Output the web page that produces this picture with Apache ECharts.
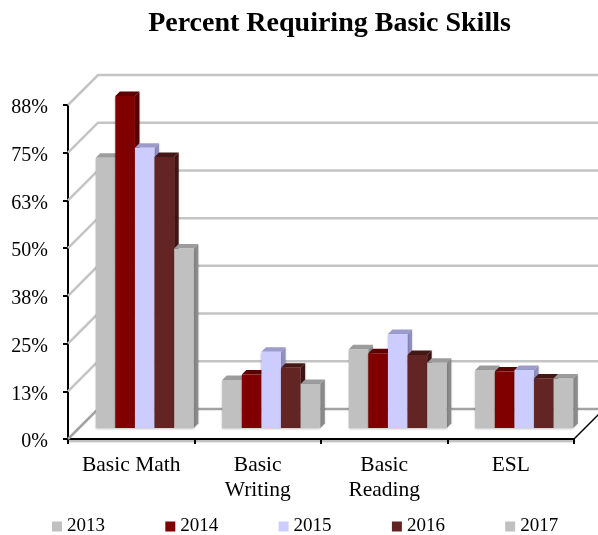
<!DOCTYPE html>
<html>
<head>
<meta charset="utf-8">
<style>html,body{margin:0;padding:0;background:#fff}#chart{width:598px;height:535px}</style>
<script src="https://cdn.jsdelivr.net/npm/echarts@6/dist/echarts.min.js"></script>
</head>
<body>
<div id="chart"></div>
<script>
const categories = ['Basic Math', 'Basic\nWriting', 'Basic\nReading', 'ESL'];
const tickValues = [0, 12.5, 25, 37.5, 50, 62.5, 75, 87.5];
const tickLabels = ['0%', '13%', '25%', '38%', '50%', '63%', '75%', '88%'];
const y2013 = [70.8, 12.6, 20.6, 15.2];
const y2014 = [87, 14, 19.6, 14.8];
const y2015 = [73.4, 20, 24.6, 15.2];
const y2016 = [71, 15.8, 19.1, 13];
const y2017 = [47, 11.5, 17.1, 13];

const years = ['2013', '2014', '2015', '2016', '2017'];
const yearValues = [y2013, y2014, y2015, y2016, y2017];
const frontColors = ['#c0c0c0', '#800000', '#ccccff', '#632523', '#c0c0c0'];
const topColors = ['#9c9c9c', '#5f0000', '#9c9ccc', '#451816', '#9c9c9c'];
const sideColors = ['#8a8a8a', '#560000', '#8f8fc0', '#3f1513', '#8a8a8a'];

// 3d look: wall sits 30px back, bars stand part of the way in
const wallDepth = 30;
const barShiftX = 13.5;
const barShiftY = -11;
const barDepth = 4.5;

function renderWall(params, api) {
    const grid = params.coordSys;
    const y = api.coord([0, api.value(0)])[1];
    const isFloor = api.value(0) === 0;
    return {
        type: 'polyline',
        shape: {points: [[grid.x, y], [grid.x + wallDepth, y - wallDepth], [grid.x + grid.width + wallDepth, y - wallDepth]]},
        style: {stroke: isFloor ? '#a2a2a2' : '#c4c4c4', lineWidth: 2.5, fill: null}
    };
}

function renderFloorEdge(params) {
    const grid = params.coordSys;
    const bottom = grid.y + grid.height;
    const right = grid.x + grid.width;
    return {
        type: 'line',
        shape: {x1: right, y1: bottom, x2: right + wallDepth, y2: bottom - wallDepth},
        style: {stroke: '#000', lineWidth: 1.5}
    };
}

function makeBarRenderer(index) {
    return function (params, api) {
        const top = api.coord([api.value(0), api.value(1)]);
        const base = api.coord([api.value(0), 0]);
        const band = api.size([1, 0])[0];
        const w = band * 0.155;
        const x0 = top[0] + barShiftX + (index - 2.5) * w;
        const x1 = x0 + w;
        const y0 = top[1] + barShiftY;
        const y1 = base[1] + barShiftY;
        const d = barDepth;
        return {
            type: 'group',
            children: [
                {type: 'polygon', shape: {points: [[x1, y0], [x1 + d, y0 - d], [x1 + d, y1 - d], [x1, y1]]}, style: {fill: sideColors[index], shadowColor: 'rgba(0,0,0,0.25)', shadowBlur: 2}},
                {type: 'polygon', shape: {points: [[x0, y0], [x0 + d, y0 - d], [x1 + d, y0 - d], [x1, y0]]}, style: {fill: topColors[index]}},
                {type: 'rect', shape: {x: x0, y: y0, width: w, height: y1 - y0}, style: {fill: frontColors[index], shadowColor: 'rgba(0,0,0,0.25)', shadowBlur: 2, shadowOffsetY: 1}}
            ]
        };
    };
}

const barSeries = years.map(function (year, i) {
    return {
        name: year,
        type: 'custom',
        renderItem: makeBarRenderer(i),
        encode: {x: 0, y: 1},
        itemStyle: {color: frontColors[i]},
        data: yearValues[i].map(function (v, c) { return [c, v]; }),
        z: 3
    };
});

const chart = echarts.init(document.getElementById('chart'), null, {renderer: 'canvas'});
chart.setOption({
    animation: false,
    textStyle: {fontFamily: 'Liberation Serif'},
    title: {
        text: 'Percent Requiring Basic Skills',
        left: 324.5,
        top: 5,
        textAlign: 'center',
        textStyle: {fontFamily: 'Liberation Serif', fontSize: 28, fontWeight: 'bold', color: '#000'}
    },
    legend: {
        data: years,
        left: 52,
        top: 517,
        padding: 0,
        icon: 'rect',
        itemWidth: 10,
        itemHeight: 10,
        itemGap: 60.3,
        textStyle: {fontFamily: 'Liberation Serif', fontSize: 19, color: '#000'}
    },
    grid: {left: 68, top: 105, width: 506, height: 334},
    xAxis: {
        type: 'category',
        data: categories,
        axisLine: {lineStyle: {color: '#000', width: 2, shadowColor: 'rgba(0,0,0,0.35)', shadowBlur: 2, shadowOffsetY: 2}},
        axisTick: {show: true, alignWithLabel: false, length: 5, lineStyle: {color: '#000', width: 2}},
        axisLabel: {fontFamily: 'Liberation Serif', fontSize: 21.5, color: '#000', lineHeight: 25, margin: 14, interval: 0}
    },
    yAxis: {
        type: 'value',
        min: 0,
        max: 87.5,
        interval: 12.5,
        splitLine: {show: false},
        axisLine: {show: true, lineStyle: {color: '#000', width: 2}},
        axisTick: {show: true, length: 5, lineStyle: {color: '#000', width: 2}},
        axisLabel: {
            margin: 20,
            formatter: function (v) { return '{t|' + tickLabels[tickValues.indexOf(v)] + '}'; },
            rich: {t: {fontFamily: 'Liberation Serif', fontSize: 20, color: '#000', padding: [6, 0, 0, 0]}}
        }
    },
    series: [
        {type: 'custom', renderItem: renderWall, encode: {y: 0}, data: tickValues.map(function (v) { return [v]; }), silent: true, z: 1},
        {type: 'custom', renderItem: renderFloorEdge, data: [[0]], silent: true, z: 2}
    ].concat(barSeries)
});
</script>
</body>
</html>
